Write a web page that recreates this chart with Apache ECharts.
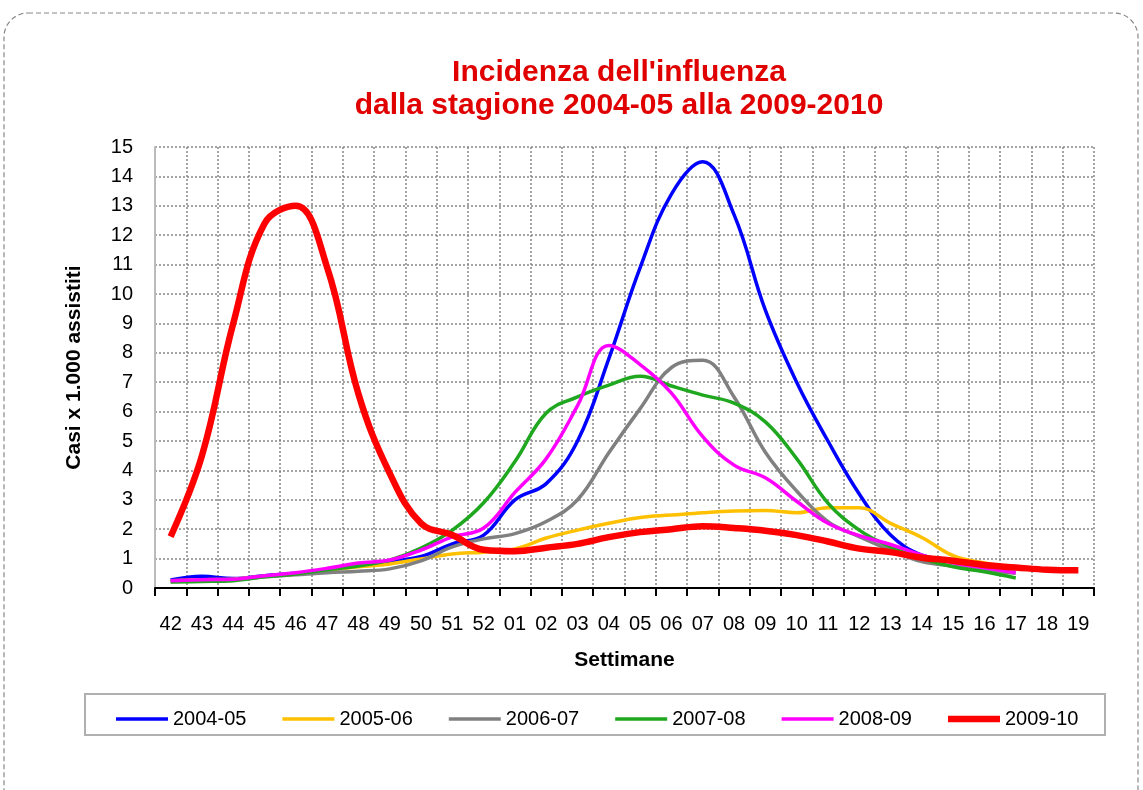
<!DOCTYPE html>
<html>
<head>
<meta charset="utf-8">
<title>Incidenza dell'influenza</title>
<script src="https://cdn.jsdelivr.net/npm/echarts@6/dist/echarts.min.js"></script>
<style>
    html, body {margin: 0; padding: 0; background: #fff;}
    #main {width: 1143px; height: 790px;}
</style>
</head>
<body>
<div id="main"></div>
<script>
// settimane
let weeks = ['42', '43', '44', '45', '46', '47', '48', '49', '50', '51', '52', '01', '02', '03', '04',
    '05', '06', '07', '08', '09', '10', '11', '12', '13', '14', '15', '16', '17', '18', '19'];

let yTicks = [0, 15, 1];   // min, max, passo

let s2004 = [0.27, 0.4, 0.32, 0.42, 0.5, 0.6, 0.75, 0.9, 1.07, 1.5, 1.8, 3.0, 3.55, 5.0, 7.8,
    10.9, 13.4, 14.5, 12.7, 9.45, 7.0, 5.0, 3.2, 1.8, 1.12, 0.95, 0.8, 0.65];
let s2005 = [0.25, 0.28, 0.3, 0.4, 0.48, 0.6, 0.72, 0.82, 0.99, 1.16, 1.22, 1.33, 1.7, 1.97, 2.2,
    2.4, 2.48, 2.56, 2.62, 2.64, 2.56, 2.73, 2.73, 2.2, 1.72, 1.1, 0.85, 0.7];
let s2006 = [0.22, 0.25, 0.28, 0.38, 0.45, 0.52, 0.57, 0.65, 0.92, 1.4, 1.67, 1.85, 2.26, 3.0, 4.6,
    6.1, 7.5, 7.75, 6.5, 4.62, 3.3, 2.26, 1.75, 1.29, 0.9, 0.75, 0.6, 0.5];
let s2007 = [0.2, 0.22, 0.25, 0.38, 0.48, 0.62, 0.75, 0.95, 1.36, 1.97, 2.9, 4.3, 5.95, 6.5, 6.9,
    7.2, 6.87, 6.56, 6.29, 5.65, 4.4, 2.89, 1.97, 1.4, 1.0, 0.72, 0.55, 0.34];
let s2008 = [0.25, 0.28, 0.3, 0.42, 0.52, 0.67, 0.85, 0.95, 1.29, 1.74, 2.04, 3.25, 4.4, 6.2, 8.25,
    7.6, 6.63, 5.15, 4.18, 3.75, 2.95, 2.2, 1.78, 1.48, 1.12, 0.86, 0.69, 0.52];
let s2009 = [1.75, 4.5, 9.0, 12.4, 13.0, 10.9, 6.6, 3.9, 2.2, 1.8, 1.3, 1.25, 1.37, 1.5, 1.73,
    1.9, 2.0, 2.1, 2.04, 1.95, 1.8, 1.58, 1.34, 1.22, 1.03, 0.93, 0.78, 0.7, 0.62, 0.6];

let seasons = ['2004-05', '2005-06', '2006-07', '2007-08', '2008-09', '2009-10'];
let seasonData = [s2004, s2005, s2006, s2007, s2008, s2009];
let seasonColors = ['#0000ff', '#ffc000', '#808080', '#1fa81f', '#ff00ff', '#ff0000'];
let seasonWidths = [3.5, 3.5, 3.5, 3.5, 3.5, 6.5];

let font = 'Liberation Sans, Arial, sans-serif';

let myChart = echarts.init(document.getElementById('main'));

let series = [];
let legendData = [];
for (let i = 0; i < seasons.length; i++) {
    series.push({
        name: seasons[i],
        type: 'line',
        data: seasonData[i],
        smooth: 0.4,
        symbol: 'none',
        color: seasonColors[i],
        lineStyle: {width: seasonWidths[i], color: seasonColors[i]},
        z: 2 + i
    });
    // icona legenda: barretta spessa come la linea
    legendData.push({
        name: seasons[i],
        icon: 'path://M0 0H52V' + seasonWidths[i] + 'H0Z'
    });
}

let option = {
    backgroundColor: '#fff',
    animation: false,
    title: {
        text: "Incidenza dell'influenza\ndalla stagione 2004-05 alla 2009-2010",
        left: 614,
        top: 51,
        textAlign: 'center',
        textStyle: {
            color: '#e00000',
            fontFamily: font,
            fontWeight: 'bold',
            fontSize: 30,
            lineHeight: 33
        }
    },
    graphic: [
        {
            type: 'rect',
            shape: {x: 4, y: 13, width: 1134, height: 800, r: 24},
            style: {fill: null, stroke: '#888', lineWidth: 1.2, lineDash: [5, 3]},
            silent: true
        },
        {
            type: 'rect',
            shape: {x: 85, y: 694, width: 1020, height: 41},
            style: {fill: null, stroke: '#b0b0b0', lineWidth: 2},
            silent: true
        }
    ],
    legend: {
        data: legendData,
        left: 111,
        top: 704,
        itemWidth: 52,
        itemHeight: 14,
        itemGap: 36,
        symbolKeepAspect: true,
        textStyle: {fontFamily: font, fontSize: 20, color: '#000'}
    },
    grid: {
        left: 155,
        right: 49,
        top: 147,
        bottom: 202
    },
    xAxis: {
        type: 'category',
        data: weeks,
        boundaryGap: true,
        name: 'Settimane',
        nameLocation: 'middle',
        nameGap: 62,
        nameTextStyle: {fontFamily: font, fontWeight: 'bold', fontSize: 21, color: '#000'},
        axisLine: {lineStyle: {color: '#000', width: 2}},
        axisTick: {show: true, length: 8, lineStyle: {color: '#000', width: 2}},
        axisLabel: {fontFamily: font, fontSize: 20, color: '#000', margin: 26, interval: 0},
        splitLine: {show: true, lineStyle: {color: '#888', width: 1.5, type: [2, 2]}}
    },
    yAxis: {
        type: 'value',
        min: yTicks[0],
        max: yTicks[1],
        interval: yTicks[2],
        name: 'Casi x 1.000 assistiti',
        nameLocation: 'middle',
        nameGap: 70,
        nameTextStyle: {fontFamily: font, fontWeight: 'bold', fontSize: 21, color: '#000'},
        axisLine: {show: true, lineStyle: {color: '#bbb', width: 2}},
        axisTick: {show: false},
        axisLabel: {fontFamily: font, fontSize: 20, color: '#000', margin: 22},
        splitLine: {show: true, lineStyle: {color: '#888', width: 1.5, type: [2, 2]}}
    },
    series: series
};

myChart.setOption(option);
</script>
</body>
</html>
